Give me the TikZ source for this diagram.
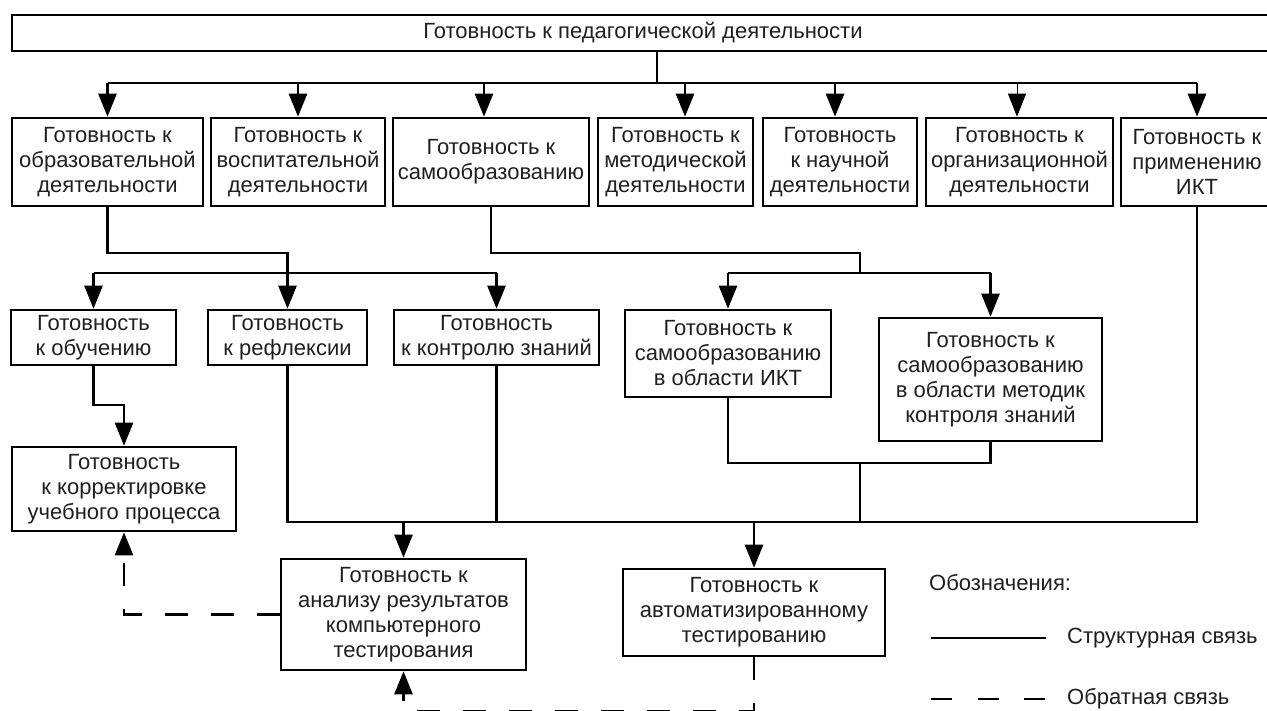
\documentclass[tikz,border=0pt]{standalone}
\usepackage{fontspec}
\setmainfont{Liberation Sans}
\usetikzlibrary{arrows.meta,calc}

\begin{document}
\begin{tikzpicture}[x=1pt, y=-1pt,
  box/.style={draw, line width=2.6pt, align=center, inner sep=0pt, text=black!88,
    font=\fontsize{22}{25}\selectfont},
  link/.style={line width=2.6pt},
  arr/.style={link, -{Triangle[length=23pt, width=18pt]}},
  fb/.style={link, dash pattern=on 23pt off 23pt},
  lab/.style={font=\fontsize{22}{25}\selectfont, text=black!88, anchor=west, inner sep=0pt},
]
  \useasboundingbox (0,0) rectangle (1267,710);
  \clip (0,0) rectangle (1267,710);

  % Top level.
  \node[box, minimum width=1262pt, minimum height=36pt] (top) at (643,33)
    {Готовность к педагогической деятельности};

  % Second row: kinds of readiness.
  \node[box, minimum width=191pt, minimum height=88pt] (b1) at (107.5,162) {Готовность к\\образовательной\\деятельности};
  \node[box, minimum width=174pt, minimum height=88pt] (b2) at (298,162) {Готовность к\\воспитательной\\деятельности};
  \node[box, minimum width=196pt, minimum height=88pt] (b3) at (491,162) {Готовность к\\самообразованию};
  \node[box, minimum width=155pt, minimum height=88pt] (b4) at (675.5,162) {Готовность к\\методической\\деятельности};
  \node[box, minimum width=154pt, minimum height=88pt] (b5) at (840,162) {Готовность\\к научной\\деятельности};
  \node[box, minimum width=187pt, minimum height=88pt] (b6) at (1019.5,162) {Готовность к\\организационной\\деятельности};
  \node[box, minimum width=152pt, minimum height=88pt] (b7) at (1197,162) {Готовность к\\применению\\ИКТ};

  % Third row.
  \node[box, minimum width=165pt, minimum height=55pt] (c1) at (93.5,337.5) {Готовность\\к обучению};
  \node[box, minimum width=159pt, minimum height=55pt] (c2) at (287.5,337.5) {Готовность\\к рефлексии};
  \node[box, minimum width=205pt, minimum height=55pt] (c3) at (496.5,337.5) {Готовность\\к контролю знаний};
  \node[box, minimum width=206pt, minimum height=87pt] (c4) at (728,353.5) {Готовность к\\самообразованию\\в области ИКТ};
  \node[box, minimum width=223pt, minimum height=123pt] (c5) at (990.5,379.5) {Готовность к\\самообразованию\\в области методик\\контроля знаний};

  % Lower boxes.
  \node[box, minimum width=224pt, minimum height=84pt] (d1) at (124,489) {Готовность\\к корректировке\\учебного процесса};
  \node[box, minimum width=245pt, minimum height=111pt] (e1) at (403.5,614.5) {Готовность к\\анализу результатов\\компьютерного\\тестирования};
  \node[box, minimum width=262pt, minimum height=87pt] (e2) at (754,612.5) {Готовность к\\автоматизированному\\тестированию};

  % Bus under the top box.
  \coordinate (bus1) at (657,83);
  \draw[link] (top.south -| bus1) -- (bus1);
  \draw[link] (b1.north |- bus1) -- (b7.north |- bus1);
  \foreach \n/\s in {b1/0, b2/0, b3/-7, b4/9.5, b5/-5, b7/0}
    \draw[arr] ([xshift=\s pt]\n.north |- bus1) -- ([xshift=\s pt]\n.north);
  \draw[arr, line width=0.9pt] ([xshift=-2.5pt]b6.north |- bus1) -- ([xshift=-2.5pt]b6.north);

  % From b1 and b3 down to the third row.
  \coordinate (k1) at (0,253);
  \coordinate (bus2) at (288,273);
  \coordinate (bus3) at (860,273);
  \draw[arr] (b1.south) -- (b1.south |- k1) -| (c2.north);
  \draw[link] (c1.north |- bus2) -- (c3.north |- bus2);
  \foreach \n in {c1,c3}
    \draw[arr] (\n.north |- bus2) -- (\n.north);
  \draw[link] (b3.south) -- (b3.south |- k1) -| (bus3);
  \draw[link] (c4.north |- bus3) -- (c5.north |- bus3);
  \foreach \n in {c4,c5}
    \draw[arr] (\n.north |- bus3) -- (\n.north);

  % c1 to d1.
  \coordinate (k2) at (0,405);
  \draw[arr] (c1.south) -- (c1.south |- k2) -| (d1.north);

  % Join of c4 and c5, then the main lower bus.
  \coordinate (k3) at (860,463);
  \coordinate (bus4) at (0,522);
  \draw[link] (c4.south) |- (k3) -| (c5.south);
  \draw[link] (k3) -- (k3 |- bus4);
  \draw[link] (c2.south) |- (b7.south |- bus4) -- (b7.south);
  \draw[link] (c3.south) -- (c3.south |- bus4);
  \foreach \n in {e1,e2}
    \draw[arr] (\n.north |- bus4) -- (\n.north);

  % Feedback.
  \coordinate (k4) at (0,711);
  \draw[fb, -{Triangle[length=23pt, width=18pt]}] (e1.west) -| (d1.south);
  \draw[fb, -{Triangle[length=23pt, width=18pt]}] (e2.south) |- (e1.south |- k4) -- (e1.south);

  % Legend.
  \node[lab] (lg) at (929,583) {Обозначения:};
  \coordinate (ls1) at (931,638);
  \coordinate (ls2) at (1046,638);
  \coordinate (ld1) at (931,699);
  \coordinate (ld2) at (1046,699);
  \draw[link] (ls1) -- (ls2);
  \draw[link, dash pattern=on 21pt off 25.5pt] (ld1) -- (ld2);
  \node[lab] (lt1) at (1067,638) {Структурная связь};
  \node[lab] (lt2) at (1067,699) {Обратная связь};
\end{tikzpicture}
\end{document}
